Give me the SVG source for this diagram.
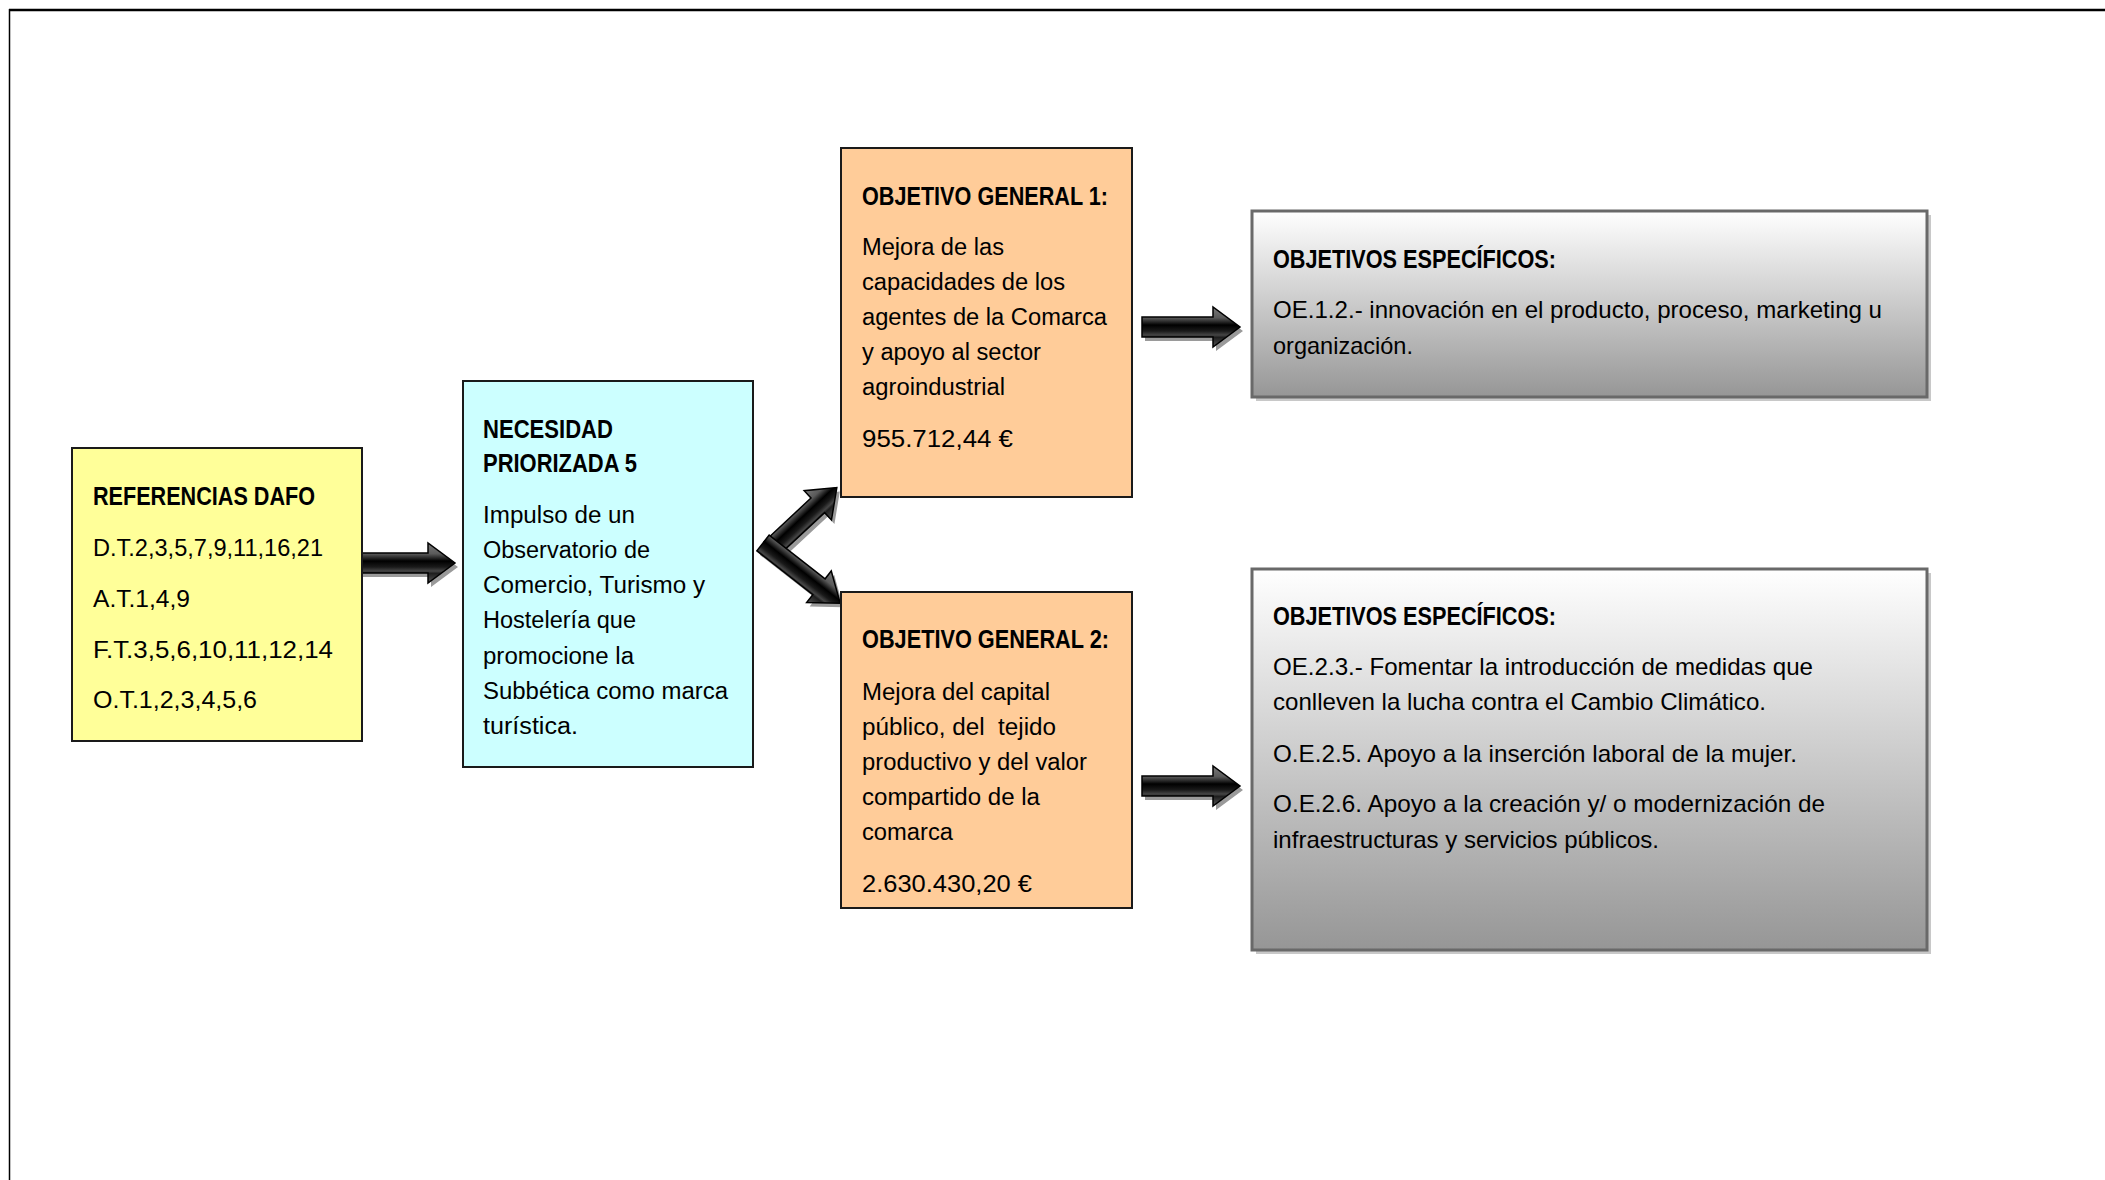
<svg xmlns="http://www.w3.org/2000/svg" xmlns:xlink="http://www.w3.org/1999/xlink" width="2105" height="1180" viewBox="0 0 2105 1180">
<style>
text{font-family:"Liberation Sans",Arial,sans-serif;fill:#000;}
.h{font-weight:bold;font-size:25px;}
.b{font-size:23px;}
.r{font-size:24px;}
.box{stroke:#1a1a1a;stroke-width:2;}
.oe{fill:url(#oeg);stroke:#696969;stroke-width:3;}
.oes{fill:#c8c8c8;}
.arr{fill:url(#ag);stroke:#000;stroke-width:1.5;stroke-linejoin:miter;}
.sh{fill:#9a9a9a;}
</style>
<defs>
<linearGradient id="oeg" x1="0" y1="0" x2="0" y2="1">
<stop offset="0" stop-color="#ffffff"/>
<stop offset="1" stop-color="#969696"/>
</linearGradient>
<linearGradient id="ag" x1="0" y1="0" x2="0" y2="1">
<stop offset="0" stop-color="#7a7a7a"/>
<stop offset="0.27" stop-color="#5a5a5a"/>
<stop offset="0.45" stop-color="#000"/>
<stop offset="0.6" stop-color="#1a1a1a"/>
<stop offset="0.7" stop-color="#454545"/>
<stop offset="0.76" stop-color="#1e1e1e"/>
<stop offset="1" stop-color="#555"/>
</linearGradient>
<path id="a98" d="M0,-10 H71 V-20 L98,0 L71,20 V10 H0 Z"/>
<path id="a90" d="M0,-10 H64 V-20 L90,0 L64,20 V10 H0 Z"/>
</defs>
<rect width="2105" height="1180" fill="#fff"/>
<g id="frame">
<line x1="9" y1="10" x2="2105" y2="10" stroke="#000" stroke-width="2.5"/>
<line x1="9.5" y1="9" x2="9.5" y2="1180" stroke="#000" stroke-width="1.5"/>
</g>
<g id="connectors">
<use xlink:href="#a98" class="sh" transform="translate(360,567)"/>
<use xlink:href="#a98" class="arr" transform="translate(357,563)"/>
<use xlink:href="#a98" class="sh" transform="translate(1145,331)"/>
<use xlink:href="#a98" class="arr" transform="translate(1142,327)"/>
<use xlink:href="#a98" class="sh" transform="translate(1145,790)"/>
<use xlink:href="#a98" class="arr" transform="translate(1142,786)"/>
<use xlink:href="#a90" class="sh" transform="translate(774,553) rotate(-43)"/>
<use xlink:href="#a98" class="sh" transform="translate(766,547) rotate(38)"/>
<use xlink:href="#a90" class="arr" transform="translate(771,549) rotate(-43)"/>
<use xlink:href="#a98" class="arr" transform="translate(763,543) rotate(38)"/>
</g>
<g id="ref">
<rect class="box" x="72" y="448" width="290" height="293" fill="#ffff99"/>
<text class="h" x="93" y="505" textLength="222" lengthAdjust="spacingAndGlyphs">REFERENCIAS DAFO</text>
<text class="r" x="93" y="556" textLength="230" lengthAdjust="spacingAndGlyphs">D.T.2,3,5,7,9,11,16,21</text>
<text class="r" x="93" y="607" textLength="97" lengthAdjust="spacingAndGlyphs">A.T.1,4,9</text>
<text class="r" x="93" y="658" textLength="240" lengthAdjust="spacingAndGlyphs">F.T.3,5,6,10,11,12,14</text>
<text class="r" x="93" y="708" textLength="164" lengthAdjust="spacingAndGlyphs">O.T.1,2,3,4,5,6</text>
</g>
<g id="nec">
<rect class="box" x="463" y="381" width="290" height="386" fill="#ccffff"/>
<text class="h" x="483" y="438" textLength="130" lengthAdjust="spacingAndGlyphs">NECESIDAD</text>
<text class="h" x="483" y="472" textLength="154" lengthAdjust="spacingAndGlyphs">PRIORIZADA 5</text>
<text class="b" x="483" y="523" textLength="152" lengthAdjust="spacingAndGlyphs">Impulso de un</text>
<text class="b" x="483" y="558" textLength="167" lengthAdjust="spacingAndGlyphs">Observatorio de</text>
<text class="b" x="483" y="593" textLength="222" lengthAdjust="spacingAndGlyphs">Comercio, Turismo y</text>
<text class="b" x="483" y="628" textLength="153" lengthAdjust="spacingAndGlyphs">Hostelería que</text>
<text class="b" x="483" y="664" textLength="151" lengthAdjust="spacingAndGlyphs">promocione la</text>
<text class="b" x="483" y="699" textLength="245" lengthAdjust="spacingAndGlyphs">Subbética como marca</text>
<text class="b" x="483" y="734" textLength="95" lengthAdjust="spacingAndGlyphs">turística.</text>
</g>
<g id="og1">
<rect class="box" x="841" y="148" width="291" height="349" fill="#ffcc99"/>
<text class="h" x="862" y="205" textLength="246" lengthAdjust="spacingAndGlyphs">OBJETIVO GENERAL 1:</text>
<text class="b" x="862" y="255" textLength="142" lengthAdjust="spacingAndGlyphs">Mejora de las</text>
<text class="b" x="862" y="290" textLength="203" lengthAdjust="spacingAndGlyphs">capacidades de los</text>
<text class="b" x="862" y="325" textLength="245" lengthAdjust="spacingAndGlyphs">agentes de la Comarca</text>
<text class="b" x="862" y="360" textLength="179" lengthAdjust="spacingAndGlyphs">y apoyo al sector</text>
<text class="b" x="862" y="395" textLength="143" lengthAdjust="spacingAndGlyphs">agroindustrial</text>
<text class="b" x="862" y="447" textLength="151" lengthAdjust="spacingAndGlyphs">955.712,44 €</text>
</g>
<g id="og2">
<rect class="box" x="841" y="592" width="291" height="316" fill="#ffcc99"/>
<text class="h" x="862" y="648" textLength="247" lengthAdjust="spacingAndGlyphs">OBJETIVO GENERAL 2:</text>
<text class="b" x="862" y="700" textLength="188" lengthAdjust="spacingAndGlyphs">Mejora del capital</text>
<text class="b" x="862" y="735" textLength="194" lengthAdjust="spacingAndGlyphs">público, del &#160;tejido</text>
<text class="b" x="862" y="770" textLength="225" lengthAdjust="spacingAndGlyphs">productivo y del valor</text>
<text class="b" x="862" y="805" textLength="178" lengthAdjust="spacingAndGlyphs">compartido de la</text>
<text class="b" x="862" y="840" textLength="91" lengthAdjust="spacingAndGlyphs">comarca</text>
<text class="b" x="862" y="892" textLength="170" lengthAdjust="spacingAndGlyphs">2.630.430,20 €</text>
</g>
<g id="oe1">
<rect class="oes" x="1256" y="215" width="675" height="186"/>
<rect class="oe" x="1252" y="211" width="675" height="186"/>
<text class="h" x="1273" y="268" textLength="283" lengthAdjust="spacingAndGlyphs">OBJETIVOS ESPECÍFICOS:</text>
<text class="r" x="1273" y="318" textLength="609" lengthAdjust="spacingAndGlyphs">OE.1.2.- innovación en el producto, proceso, marketing u</text>
<text class="r" x="1273" y="354" textLength="140" lengthAdjust="spacingAndGlyphs">organización.</text>
</g>
<g id="oe2">
<rect class="oes" x="1256" y="573" width="675" height="381"/>
<rect class="oe" x="1252" y="569" width="675" height="381"/>
<text class="h" x="1273" y="625" textLength="283" lengthAdjust="spacingAndGlyphs">OBJETIVOS ESPECÍFICOS:</text>
<text class="r" x="1273" y="675" textLength="540" lengthAdjust="spacingAndGlyphs">OE.2.3.- Fomentar la introducción de medidas que</text>
<text class="r" x="1273" y="710" textLength="493" lengthAdjust="spacingAndGlyphs">conlleven la lucha contra el Cambio Climático.</text>
<text class="r" x="1273" y="762" textLength="524" lengthAdjust="spacingAndGlyphs">O.E.2.5. Apoyo a la inserción laboral de la mujer.</text>
<text class="r" x="1273" y="812" textLength="552" lengthAdjust="spacingAndGlyphs">O.E.2.6. Apoyo a la creación y/ o modernización de</text>
<text class="r" x="1273" y="848" textLength="386" lengthAdjust="spacingAndGlyphs">infraestructuras y servicios públicos.</text>
</g>
</svg>
